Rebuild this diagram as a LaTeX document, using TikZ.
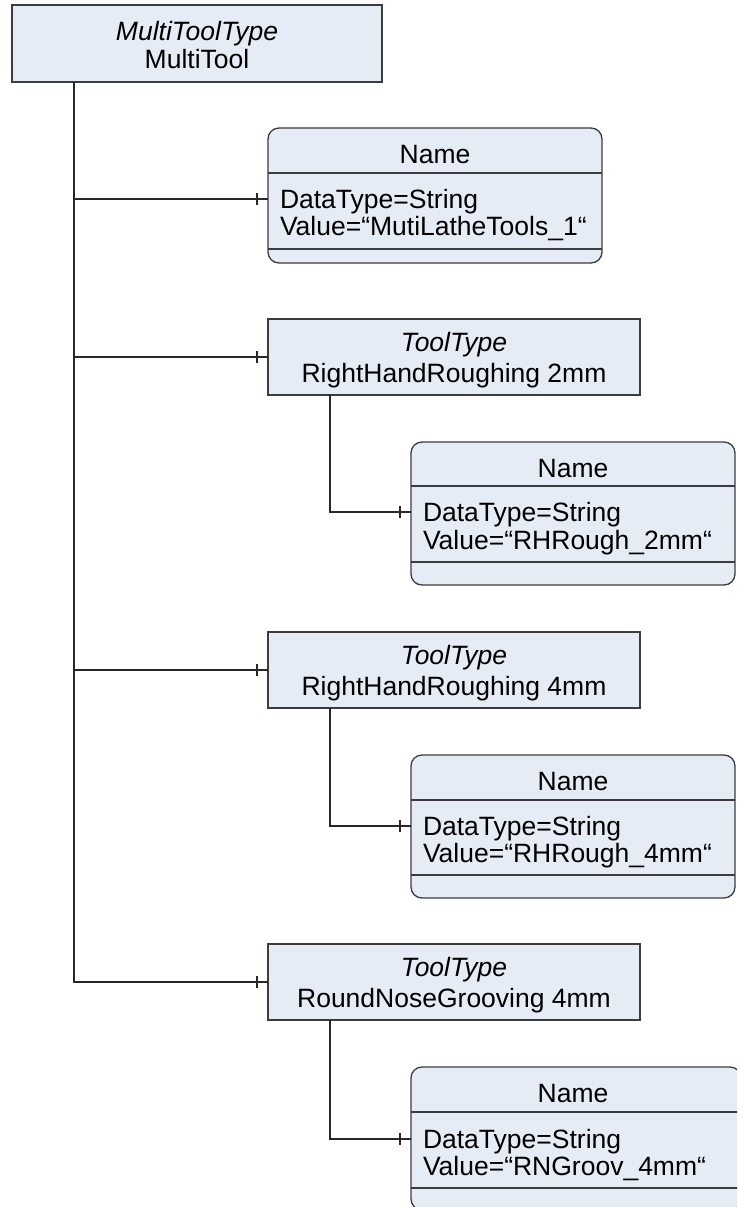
\documentclass[tikz,border=0pt]{standalone}
\usepackage{fontspec}
\setmainfont{Liberation Sans}
\usetikzlibrary{calc}
\definecolor{boxfill}{RGB}{230,236,246}
\definecolor{edgecol}{RGB}{60,60,60}
\definecolor{wirecol}{RGB}{40,40,40}
\begin{document}
\begin{tikzpicture}[x=1pt,y=-1pt,
  every node/.style={inner sep=0pt, outer sep=0pt},
  txt/.style={font=\fontsize{26.5}{30}\selectfont},
  itxt/.style={font=\fontsize{26.5}{30}\selectfont\itshape},
  classbox/.style={draw=edgecol, fill=boxfill, line width=1.3pt},
  namebox/.style={classbox, rounded corners=11pt},
  divider/.style={draw=edgecol, line width=1.3pt},
  wire/.style={draw=wirecol, line width=1.5pt},
  tickmark/.style={draw=wirecol, line width=1.2pt}
  ]
\useasboundingbox (0,0) rectangle (737,1207);
\clip (0,0) rectangle (737,1207);

% ---------- root ----------
\node[classbox, minimum width=370pt, minimum height=77pt] (root) at (197,43.5) {};
\node[itxt, anchor=base] (rootA) at (197,41) {MultiToolType};
\node[txt, anchor=base] (rootB) at (197,69) {MultiTool};

% ---------- Name 1 ----------
\node[namebox, minimum width=334pt, minimum height=135pt] (n1) at (435,195.5) {};
\draw[divider] (n1.west |- 0,173) -- (n1.east |- 0,173);
\draw[divider] (n1.west |- 0,249) -- (n1.east |- 0,249);
\node[txt, anchor=base] (n1h) at (435,163) {Name};
\node[txt, anchor=base west] (n1a) at (280,208) {DataType=String};
\node[txt, anchor=base west] (n1b) at (280,235) {Value=“MutiLatheTools\_1“};

% ---------- ToolType boxes ----------
\node[classbox, minimum width=372pt, minimum height=76pt] (t1) at (454,357) {};
\node[itxt, anchor=base] (t1a) at (454,351) {ToolType};
\node[txt, anchor=base] (t1b) at (454,382) {RightHandRoughing 2mm};

\node[classbox, minimum width=372pt, minimum height=76pt] (t2) at (454,670) {};
\node[itxt, anchor=base] (t2a) at (454,664) {ToolType};
\node[txt, anchor=base] (t2b) at (454,695) {RightHandRoughing 4mm};

\node[classbox, minimum width=372pt, minimum height=76pt] (t3) at (454,982) {};
\node[itxt, anchor=base] (t3a) at (454,976) {ToolType};
\node[txt, anchor=base] (t3b) at (454,1007) {RoundNoseGrooving 4mm};

% ---------- Name 2 ----------
\node[namebox, minimum width=324pt, minimum height=143pt] (n2) at (573,513.5) {};
\draw[divider] (n2.west |- 0,486) -- (n2.east |- 0,486);
\draw[divider] (n2.west |- 0,562) -- (n2.east |- 0,562);
\node[txt, anchor=base] (n2h) at (573,477) {Name};
\node[txt, anchor=base west] (n2a) at (423,521) {DataType=String};
\node[txt, anchor=base west] (n2b) at (423,549) {Value=“RHRough\_2mm“};

% ---------- Name 3 ----------
\node[namebox, minimum width=324pt, minimum height=143pt] (n3) at (573,826.5) {};
\draw[divider] (n3.west |- 0,800) -- (n3.east |- 0,800);
\draw[divider] (n3.west |- 0,875) -- (n3.east |- 0,875);
\node[txt, anchor=base] (n3h) at (573,790) {Name};
\node[txt, anchor=base west] (n3a) at (423,835) {DataType=String};
\node[txt, anchor=base west] (n3b) at (423,862) {Value=“RHRough\_4mm“};

% ---------- Name 4 ----------
\node[namebox, minimum width=330pt, minimum height=143pt] (n4) at (576,1138.5) {};
\draw[divider] (n4.west |- 0,1112) -- (n4.east |- 0,1112);
\draw[divider] (n4.west |- 0,1188) -- (n4.east |- 0,1188);
\node[txt, anchor=base] (n4h) at (573,1102) {Name};
\node[txt, anchor=base west] (n4a) at (423,1148) {DataType=String};
\node[txt, anchor=base west] (n4b) at (423,1175) {Value=“RNGroov\_4mm“};

% ---------- trunk connectors ----------
\coordinate (b1) at (74,199);
\coordinate (b2) at (74,357);
\coordinate (b3) at (74,670);
\coordinate (b4) at (74,982);
\draw[wire] (root.south -| b1) -- (b4) -- (b4 -| t3.west);
\draw[wire] (b1) -- (b1 -| n1.west);
\draw[wire] (b2) -- (b2 -| t1.west);
\draw[wire] (b3) -- (b3 -| t2.west);
\foreach \b/\n in {b1/n1, b2/t1, b3/t2, b4/t3}{
  \draw[tickmark] ($(\b -| \n.west)+(-11,-6)$) -- ($(\b -| \n.west)+(-11,6)$);
}

% ---------- child connectors ----------
\coordinate (c1) at (330,512);
\coordinate (c2) at (330,826);
\coordinate (c3) at (330,1139);
\draw[wire] (t1.south -| c1) -- (c1) -- (c1 -| n2.west);
\draw[wire] (t2.south -| c2) -- (c2) -- (c2 -| n3.west);
\draw[wire] (t3.south -| c3) -- (c3) -- (c3 -| n4.west);
\foreach \c/\n in {c1/n2, c2/n3, c3/n4}{
  \draw[tickmark] ($(\c -| \n.west)+(-11,-6)$) -- ($(\c -| \n.west)+(-11,6)$);
}
\end{tikzpicture}
\end{document}
